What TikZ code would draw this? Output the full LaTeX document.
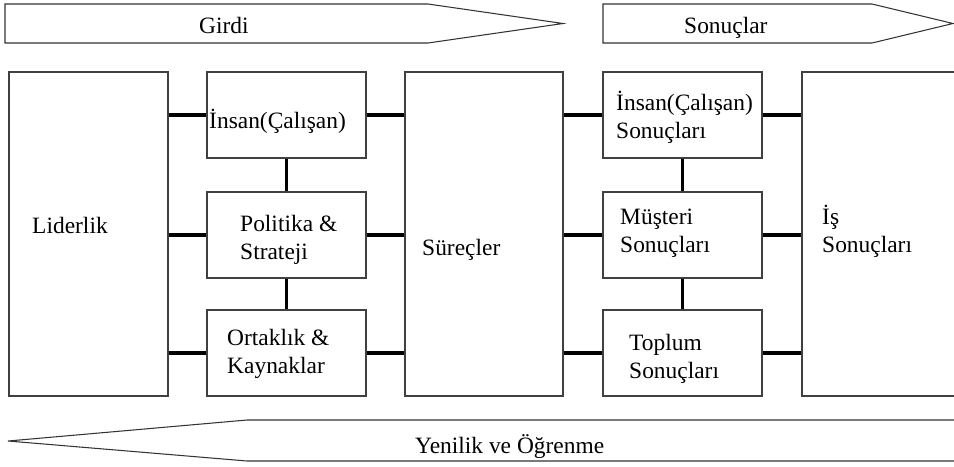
\documentclass[tikz,border=0pt]{standalone}
\usepackage{fontspec}
\setmainfont{Liberation Serif}

\begin{document}
\begin{tikzpicture}[x=0.03cm,y=-0.03cm,
    box/.style={draw=black!75,line width=1pt,inner sep=0pt,minimum width=4.77cm},
    tall/.style={box,minimum height=9.72cm},
    small/.style={box,minimum height=2.58cm},
    band/.style={draw=black!80,line width=0.9pt,line join=miter},
    txt/.style={anchor=base west,inner sep=0pt,align=left,
      font=\fontsize{20}{23.5}\selectfont}]
    \useasboundingbox (0,0) rectangle (954,466);

    % big arrows
    \draw[band] (5,4) -- (428,4) -- (563,23.5) -- (428,43) -- (5,43) -- cycle;
    \draw[band] (603,4) -- (872,4) -- (953,23.5) -- (872,43) -- (603,43) -- cycle;
    \draw[band] (1000,420) -- (247,420) -- (8,441) -- (247,461) -- (1000,461);
    \node[txt] (gir) at (199,33) {Girdi};
    \node[txt] (son) at (684,33) {Sonuçlar};
    \node[txt] (yen) at (415,453) {Yenilik ve Öğrenme};

    % boxes
    \node[tall] (1) at (88.5,234) {};
    \node[small] (2) at (286.5,115) {};
    \node[small] (3) at (286.5,235) {};
    \node[small] (4) at (286.5,353) {};
    \node[tall,minimum width=4.74cm] (5) at (484,234) {};
    \node[small] (6) at (682.5,115) {};
    \node[small] (7) at (682.5,235) {};
    \node[small] (8) at (682.5,353) {};
    \node[tall] (9) at (881.5,234) {};

    % text, placed by the baseline of its last line
    \node[txt] (t1) at (32,233) {Liderlik};
    \node[txt] (t2) at (209,128) {İnsan(Çalışan)};
    \node[txt] (t3) at (240,259) {Politika \&\\Strateji};
    \node[txt] (t4) at (227,373) {Ortaklık \&\\Kaynaklar};
    \node[txt] (t5) at (422,255) {Süreçler};
    \node[txt] (t6) at (616,138) {İnsan(Çalışan)\\Sonuçları};
    \node[txt] (t7) at (620,252) {Müşteri\\Sonuçları};
    \node[txt] (t8) at (629,378) {Toplum\\Sonuçları};
    \node[txt] (t9) at (822,252) {İş\\Sonuçları};

    \path[black,line width=2.6pt]
    (2.west -| 1.east) edge (2.west)
    (3.west -| 1.east) edge (3.west)
    (4.west -| 1.east) edge (4.west)
    (2.east) edge (2.east -| 5.west)
    (3.east) edge (3.east -| 5.west)
    (4.east) edge (4.east -| 5.west)
    (6.west -| 5.east) edge (6.west)
    (7.west -| 5.east) edge (7.west)
    (8.west -| 5.east) edge (8.west)
    (6.east) edge (6.east -| 9.west)
    (7.east) edge (7.east -| 9.west)
    (8.east) edge (8.east -| 9.west)
    (2) edge (3)
    (3) edge (4)
    (6) edge (7)
    (7) edge (8);

\end{tikzpicture}
\end{document}
